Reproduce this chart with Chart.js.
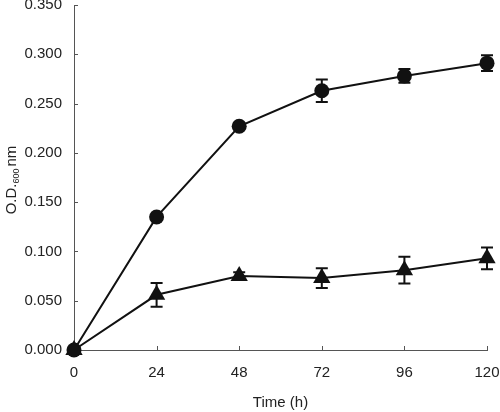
<!DOCTYPE html>
<html lang='en'>

<head>
    <meta charset='UTF-8'>
    <title>Growth curve</title>
    <script src="https://cdn.jsdelivr.net/npm/chart.js"></script>
    <style>
        body { margin: 0; background: #fff; }
        #chart_sect { width: 500px; height: 412px; }
    </style>
</head>

<body>
    <div id="chart_sect">
        <canvas id="myChart"></canvas>
    </div>

    <script>
        // data
        const time_h = [0, 24, 48, 72, 96, 120];
        const circle_od = [0.000, 0.135, 0.227, 0.263, 0.278, 0.291];
        const circle_err = [0.000, 0.002, 0.003, 0.0115, 0.007, 0.008];
        const triangle_od = [0.000, 0.056, 0.075, 0.073, 0.081, 0.093];
        const triangle_err = [0.000, 0.012, 0.004, 0.010, 0.0135, 0.011];
        const y_ticks = [0, 0.05, 0.1, 0.15, 0.2, 0.25, 0.3, 0.35];

        const font_name = "Arial, 'Liberation Sans', sans-serif";
        const axis_color = '#555';
        const ink = '#111';

        const toPoints = (ys) => time_h.map((t, i) => ({ x: t, y: ys[i] }));

        // error bars + inner ticks + y title with subscript
        const extras = {
            id: 'extras',
            beforeDatasetsDraw(chart) {
                const ctx = chart.ctx;
                const xs = chart.scales.x, ys = chart.scales.y;
                ctx.save();
                ctx.strokeStyle = ink;
                ctx.lineWidth = 2;
                [[circle_od, circle_err], [triangle_od, triangle_err]].forEach(([vals, errs]) => {
                    vals.forEach((v, i) => {
                        if (!errs[i]) return;
                        const px = xs.getPixelForValue(time_h[i]);
                        const top = ys.getPixelForValue(v + errs[i]);
                        const bot = ys.getPixelForValue(v - errs[i]);
                        ctx.beginPath();
                        ctx.moveTo(px, top); ctx.lineTo(px, bot);
                        ctx.moveTo(px - 6, top); ctx.lineTo(px + 6, top);
                        ctx.moveTo(px - 6, bot); ctx.lineTo(px + 6, bot);
                        ctx.stroke();
                    });
                });
                // inward tick marks
                ctx.strokeStyle = axis_color;
                ctx.lineWidth = 1;
                const left = chart.chartArea.left, bottom = chart.chartArea.bottom;
                y_ticks.forEach((v) => {
                    const py = Math.round(ys.getPixelForValue(v)) + 0.5;
                    ctx.beginPath();
                    ctx.moveTo(left, py); ctx.lineTo(left + 4, py);
                    ctx.stroke();
                });
                time_h.forEach((t) => {
                    const px = Math.round(xs.getPixelForValue(t)) + 0.5;
                    ctx.beginPath();
                    ctx.moveTo(px, bottom); ctx.lineTo(px, bottom - 4);
                    ctx.stroke();
                });
                ctx.restore();
            },
            afterDraw(chart) {
                const ctx = chart.ctx;
                ctx.save();
                ctx.translate(12, 180);
                ctx.rotate(-Math.PI / 2);
                ctx.fillStyle = '#222';
                ctx.textBaseline = 'middle';
                const p1 = 'O.D.', p2 = '600', p3 = 'nm';
                ctx.font = '9px ' + font_name;
                const w2 = ctx.measureText(p2).width;
                ctx.font = '15px ' + font_name;
                const w1 = ctx.measureText(p1).width;
                const w3 = ctx.measureText(p3).width;
                let x = -(w1 + w2 + w3 + 2) / 2;
                ctx.fillText(p1, x, 0);
                x += w1;
                ctx.font = '9px ' + font_name;
                ctx.fillText(p2, x, 5);
                x += w2 + 2;
                ctx.font = '15px ' + font_name;
                ctx.fillText(p3, x, 0);
                ctx.restore();
            }
        };

        new Chart(document.getElementById('myChart'), {
            type: 'line',
            data: {
                datasets: [{
                    label: 'triangle',
                    data: toPoints(triangle_od),
                    borderColor: ink,
                    backgroundColor: ink,
                    borderWidth: 2,
                    pointStyle: 'triangle',
                    pointRadius: 10,
                    pointBorderWidth: 0,
                    clip: false
                }, {
                    label: 'circle',
                    data: toPoints(circle_od),
                    borderColor: ink,
                    backgroundColor: ink,
                    borderWidth: 2,
                    pointStyle: 'circle',
                    pointRadius: 7.5,
                    pointBorderWidth: 0,
                    clip: false
                }]
            },
            options: {
                responsive: true,
                maintainAspectRatio: false,
                animation: false,
                layout: {
                    autoPadding: false,
                    padding: { top: 5, right: 13, left: 0, bottom: 0 }
                },
                plugins: {
                    legend: { display: false },
                    tooltip: { enabled: false }
                },
                scales: {
                    x: {
                        type: 'linear',
                        min: 0,
                        max: 120,
                        afterFit: (s) => {
                            s.height = 62;
                            s.paddingLeft = 0;
                            s.paddingRight = 0;
                        },
                        afterBuildTicks: (s) => { s.ticks = time_h.map((v) => ({ value: v })); },
                        grid: { display: false, drawTicks: false },
                        border: { color: axis_color, width: 1 },
                        ticks: { color: '#222', padding: 14, font: { family: font_name, size: 15 } },
                        title: {
                            display: true,
                            text: 'Time (h)',
                            color: '#222',
                            font: { family: font_name, size: 15 },
                            padding: { top: 6, bottom: 0 }
                        }
                    },
                    y: {
                        min: 0,
                        max: 0.35,
                        afterFit: (s) => {
                            s.width = 74;
                            s.paddingTop = 0;
                            s.paddingBottom = 0;
                        },
                        afterBuildTicks: (s) => { s.ticks = y_ticks.map((v) => ({ value: v })); },
                        grid: { display: false, drawTicks: false },
                        border: { color: axis_color, width: 1 },
                        ticks: {
                            color: '#222',
                            padding: 12,
                            font: { family: font_name, size: 15 },
                            callback: (v) => v.toFixed(3)
                        }
                    }
                }
            },
            plugins: [extras]
        });
    </script>

</body>

</html>
